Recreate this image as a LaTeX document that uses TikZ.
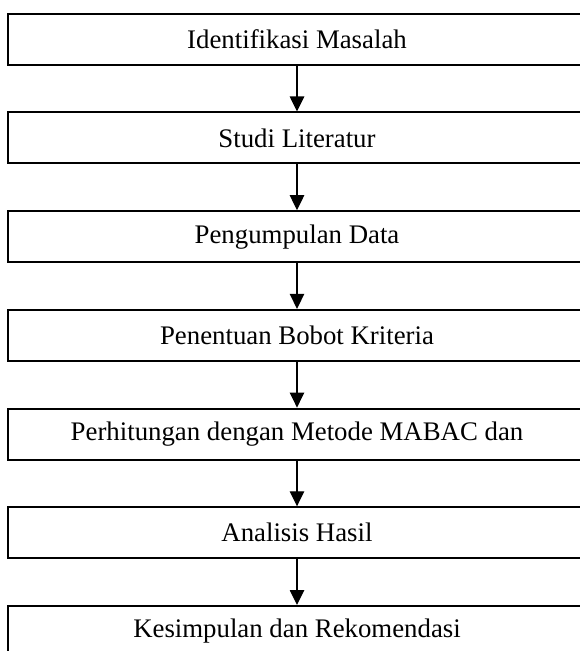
\documentclass[tikz,border=0pt]{standalone}
\usepackage{fontspec}
\setmainfont{Liberation Serif}
\usetikzlibrary{arrows.meta}

\begin{document}
\begin{tikzpicture}[x=0.5pt, y=-0.5pt,
    box/.style={draw, line width=1pt, minimum width=288.75pt, minimum height=25.5pt,
        inner sep=0pt, font=\fontsize{13.4}{16}\selectfont},
    arr/.style={-{Triangle[length=7.5pt, width=7.2pt]}, line width=0.65pt}]
        \useasboundingbox (0, 0) rectangle (579, 651);
        \node[box] (IM) at (297, 39.3) {Identifikasi Masalah};
        \node[box] (SL) at (297, 138) {Studi Literatur};
        \node[box] (PD) at (297, 236.7) {Pengumpulan Data};
        \node[box] (PB) at (297, 335.4) {Penentuan Bobot Kriteria};
        \node[box] (PM) at (297, 434.1) {Perhitungan dengan Metode MABAC dan};
        \node[box] (AH) at (297, 532.8) {Analisis Hasil};
        \node[box] (KR) at (297, 631.5) {Kesimpulan dan Rekomendasi};
        \draw[arr] (IM) to (SL);
        \draw[arr] (SL) to (PD);
        \draw[arr] (PD) to (PB);
        \draw[arr] (PB) to (PM);
        \draw[arr] (PM) to (AH);
        \draw[arr] (AH) to (KR);
    \end{tikzpicture}
\end{document}
